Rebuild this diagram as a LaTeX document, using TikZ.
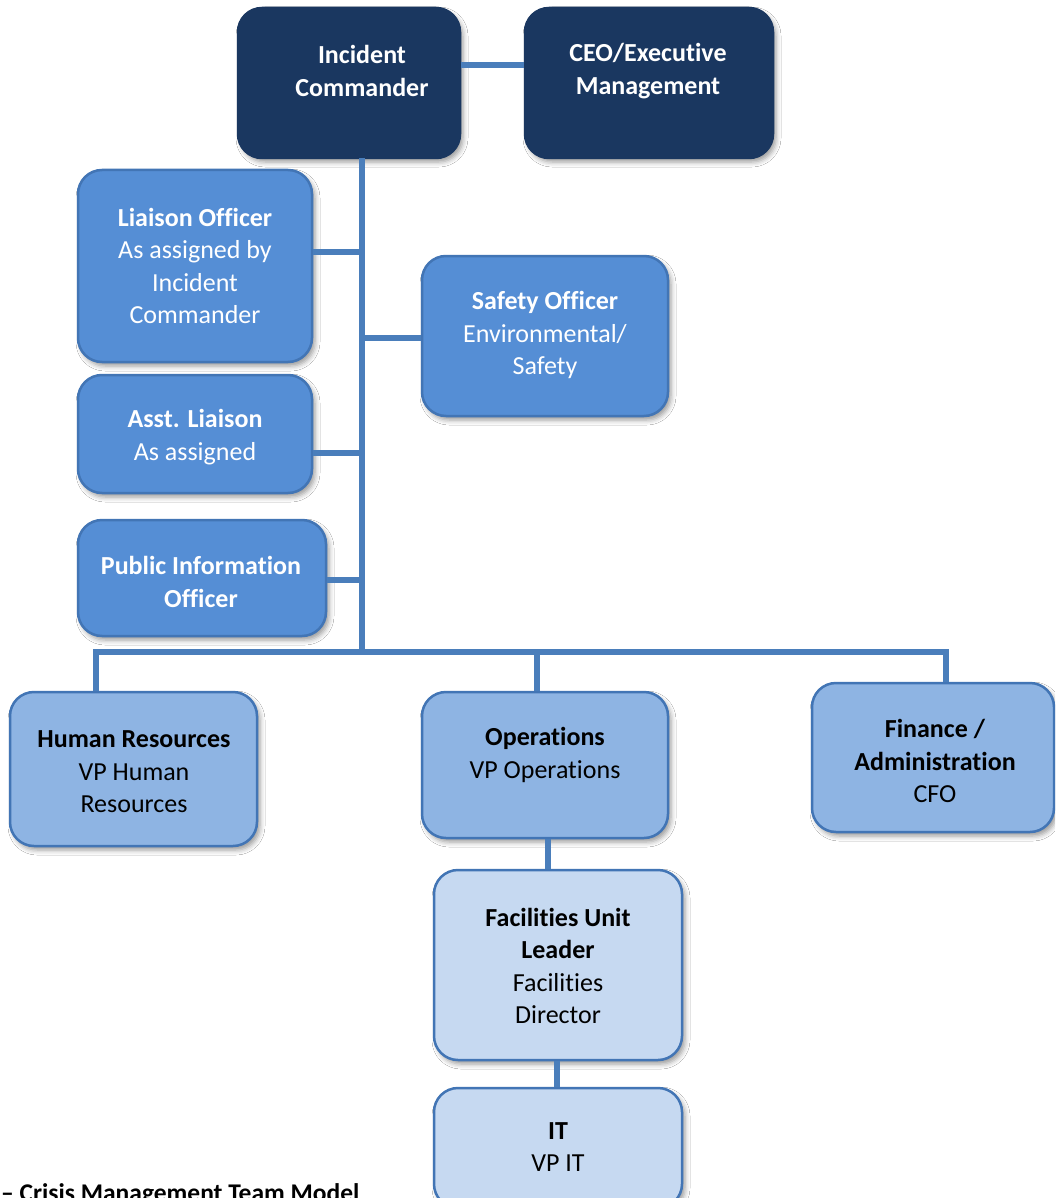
\documentclass[tikz,border=0pt]{standalone}
\usepackage{fontspec}
\setmainfont{Carlito}[Ligatures=NoCommon]
\usetikzlibrary{shadows.blur}
\definecolor{navy}{HTML}{1A3760}
\definecolor{midblue}{HTML}{558ED5}
\definecolor{lightblue}{HTML}{8EB4E3}
\definecolor{paleblue}{HTML}{C6D9F1}
\definecolor{edgeblue}{HTML}{4275B5}
\definecolor{linkblue}{HTML}{4A7EBB}
\tikzset{
  box/.style={rectangle, rounded corners=24pt, line width=2.5pt, inner sep=0pt,
    blur shadow={shadow xshift=3pt, shadow yshift=-4pt, shadow blur radius=5pt, shadow opacity=40}},
  darkbox/.style={box, fill=navy, draw=navy},
  midbox/.style={box, fill=midblue, draw=edgeblue},
  lightbox/.style={box, fill=lightblue, draw=edgeblue},
  palebox/.style={box, fill=paleblue, draw=edgeblue},
  lbl/.style={align=center, inner sep=0pt, font=\fontsize{26}{32.5}\selectfont},
  wlbl/.style={lbl, text=white},
  blbl/.style={lbl, text=black},
  link/.style={draw=linkblue, line width=6pt},
}
\begin{document}
\begin{tikzpicture}[x=1pt, y=-1pt]
\useasboundingbox (0,0) rectangle (1055,1198);
\clip (0,0) rectangle (1055,1198);
\fill[white] (0,0) rectangle (1055,1198);

% boxes
\node[darkbox, minimum width=222pt, minimum height=150pt] (ic) at (349,83) {};
\node[darkbox, minimum width=248pt, minimum height=150pt] (ceo) at (649,83) {};
\node[midbox, minimum width=234pt, minimum height=192pt] (lo) at (195,266) {};
\node[midbox, minimum width=246pt, minimum height=160pt] (so) at (545,336) {};
\node[midbox, minimum width=234pt, minimum height=118pt] (al) at (195,434) {};
\node[midbox, minimum width=248pt, minimum height=116pt] (pi) at (202,578) {};
\node[lightbox, minimum width=247pt, minimum height=154pt] (hr) at (133.5,769) {};
\node[lightbox, minimum width=246pt, minimum height=146pt] (op) at (545,765) {};
\node[lightbox, minimum width=242pt, minimum height=149pt] (fi) at (933,757.5) {};
\node[palebox, minimum width=248pt, minimum height=190pt] (fu) at (558,965) {};
\node[palebox, minimum width=248pt, minimum height=120pt] (it) at (558,1148) {};

% texts
\node[wlbl] (ict) at (362,71) {\textbf{Incident}\\\textbf{Commander}};
\node[wlbl] (ceot) at (648,71) {\textbf{CEO/Executive}\\\textbf{Management}};
\node[wlbl] (lot) at (195,266) {\textbf{Liaison Officer}\\As assigned by\\Incident\\Commander};
\node[wlbl] (sot) at (545,335) {\textbf{Safety Officer}\\Environmental/\\Safety};
\node[wlbl] (alt) at (195,437) {\textbf{Asst. Liaison}\\As assigned};
\node[wlbl] (pit) at (201,582) {\textbf{Public Information}\\\textbf{Officer}};
\node[blbl] (hrt) at (134,772) {\textbf{Human Resources}\\VP Human\\Resources};
\node[blbl] (opt) at (545,755) {\textbf{Operations}\\VP Operations};
\node[blbl] (fit) at (935,761) {\textbf{Finance /}\\\textbf{Administration}\\CFO};
\node[blbl] (fut) at (558,966) {\textbf{Facilities Unit}\\\textbf{Leader}\\Facilities\\Director};
\node[blbl] (itt) at (558,1147) {\textbf{IT}\\VP IT};
\node[blbl, anchor=base west, font=\fontsize{25.5}{30}\selectfont\bfseries] (cap) at (1,1201) {– Crisis Management Team Model};

% connectors
\coordinate (hl) at (492,65);
\draw[link] (hl -| ic.east) -- (hl -| ceo.west);
\coordinate (tt) at (362,158);
\coordinate (tb) at (362,652);
\draw[link] (tt) -- (tb);
\coordinate (j1) at (362,252);
\coordinate (j2) at (362,338);
\coordinate (j3) at (362,453);
\coordinate (j4) at (362,580);
\draw[link] (j1 -| lo.east) -- (j1);
\draw[link] (j2) -- (j2 -| so.west);
\draw[link] (j3 -| al.east) -- (j3);
\draw[link] (j4 -| pi.east) -- (j4);
\coordinate (bL) at (96,652);
\coordinate (bM) at (537,652);
\coordinate (bR) at (946,652);
\draw[link, line join=miter] (bL |- hr.north) -- (bL) -- (bR) -- (bR |- fi.north);
\draw[link] (bM) -- (bM |- op.north);
\coordinate (v1) at (548,850);
\draw[link] (v1 |- op.south) -- (v1 |- fu.north);
\coordinate (v2) at (557,1075);
\draw[link] (v2 |- fu.south) -- (v2 |- it.north);
\end{tikzpicture}
\end{document}
